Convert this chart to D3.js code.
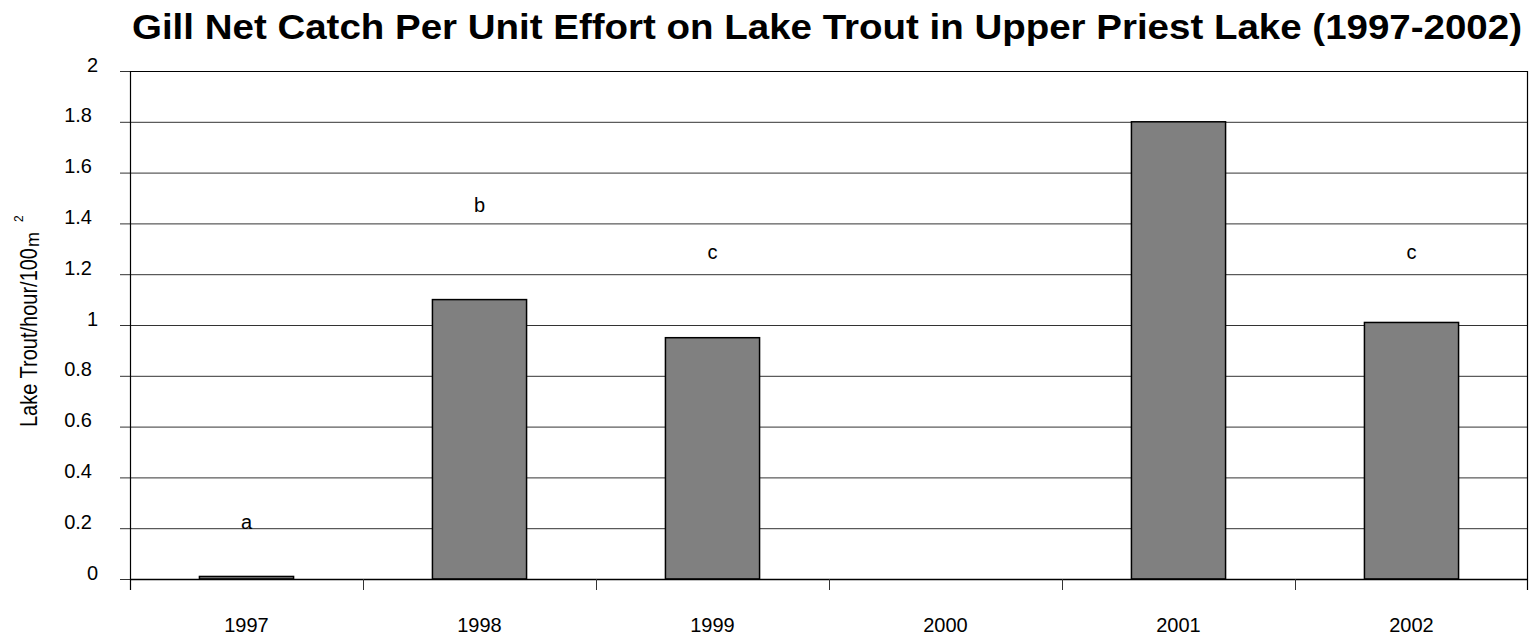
<!DOCTYPE html>
<html>
<head>
<meta charset="utf-8">
<script src="https://cdn.jsdelivr.net/npm/d3@7"></script>
<style>
body { margin: 0; background: #fff; }
text { font-family: "Liberation Sans", Arial, sans-serif; }
</style>
</head>
<body>
<svg id="chart" width="1534" height="636"></svg>
<script>
// du lieu doc tu hinh
const years = ["1997", "1998", "1999", "2000", "2001", "2002"];
const cpue = [0.01, 1.10, 0.95, 0, 1.80, 1.01];
const letters = ["a", "b", "c", "", "", "c"];
const letterAt = [0.197, 1.445, 1.26, 0, 0, 1.26];
const yTicks = [0, 0.2, 0.4, 0.6, 0.8, 1, 1.2, 1.4, 1.6, 1.8, 2];

const svg = d3.select("#chart");
const pLeft = 130, pRight = 1528, pTop = 71, pBottom = 579;

const x = d3.scaleBand().domain(years).range([pLeft, pRight]).paddingInner(0).paddingOuter(0);
const y = d3.scaleLinear().domain([0, 2]).range([pBottom, pTop]);
const barW = x.bandwidth() * 0.404;

// luoi ngang
svg.append("g")
    .selectAll("line")
    .data(yTicks)
    .join("line")
    .attr("x1", pLeft - 10)
    .attr("x2", pRight)
    .attr("y1", d => y(d) + 0.5)
    .attr("y2", d => y(d) + 0.5)
    .attr("stroke", "#333")
    .attr("stroke-width", 1);

// nhan truc y (so nguyen lech phai hon so thap phan nhu hinh goc)
svg.append("g")
    .selectAll("text")
    .data(yTicks)
    .join("text")
    .attr("x", d => Number.isInteger(d) ? 98 : 92)
    .attr("y", d => y(d) + 0.5)
    .attr("text-anchor", "end")
    .attr("font-size", 20)
    .text(d => d);

// cot
svg.append("g")
    .selectAll("rect")
    .data(cpue)
    .join("rect")
    .attr("x", (d, i) => x(years[i]) + (x.bandwidth() - barW) / 2)
    .attr("y", d => y(d))
    .attr("width", barW)
    .attr("height", d => pBottom - y(d))
    .attr("fill", "#808080")
    .attr("stroke", "#000")
    .attr("stroke-width", 1.5)
    .style("display", d => d > 0 ? null : "none");

// chu cai
svg.append("g")
    .selectAll("text")
    .data(letters)
    .join("text")
    .attr("x", (d, i) => x(years[i]) + x.bandwidth() / 2)
    .attr("y", (d, i) => y(letterAt[i]))
    .attr("text-anchor", "middle")
    .attr("font-size", 20)
    .text(d => d);

// khung: truc trai, tren, phai
svg.append("line").attr("x1", pLeft + 0.5).attr("x2", pLeft + 0.5).attr("y1", pTop).attr("y2", pBottom + 11)
    .attr("stroke", "#000").attr("stroke-width", 1.2);
svg.append("line").attr("x1", pLeft).attr("x2", pRight).attr("y1", pTop + 0.5).attr("y2", pTop + 0.5)
    .attr("stroke", "#000").attr("stroke-width", 1.2);
svg.append("line").attr("x1", pRight - 0.5).attr("x2", pRight - 0.5).attr("y1", pTop).attr("y2", pBottom + 11)
    .attr("stroke", "#000").attr("stroke-width", 1.2);
svg.append("line").attr("x1", pLeft).attr("x2", pRight).attr("y1", pBottom + 0.5).attr("y2", pBottom + 0.5)
    .attr("stroke", "#000").attr("stroke-width", 1.5);

// vach truc x
svg.append("g")
    .selectAll("line")
    .data(years.slice(1))
    .join("line")
    .attr("x1", d => x(d) + 0.5)
    .attr("x2", d => x(d) + 0.5)
    .attr("y1", pBottom)
    .attr("y2", pBottom + 11)
    .attr("stroke", "#333");

svg.append("g")
    .selectAll("text")
    .data(years)
    .join("text")
    .attr("x", d => x(d) + x.bandwidth() / 2)
    .attr("y", 632)
    .attr("text-anchor", "middle")
    .attr("font-size", 20)
    .text(d => d);

// tieu de
svg.append("text")
    .attr("x", 827)
    .attr("y", 38.5)
    .attr("text-anchor", "middle")
    .attr("font-size", 35)
    .attr("font-weight", "bold")
    .attr("textLength", 1390)
    .attr("lengthAdjust", "spacingAndGlyphs")
    .text("Gill Net Catch Per Unit Effort on Lake Trout in Upper Priest Lake (1997-2002)");

// tieu de truc y
svg.append("text")
    .attr("transform", "translate(37,427) rotate(-90)")
    .attr("font-size", 24)
    .attr("textLength", 179)
    .attr("lengthAdjust", "spacingAndGlyphs")
    .text("Lake Trout/hour/100");
svg.append("text")
    .attr("transform", "translate(39,247) rotate(-90)")
    .attr("font-size", 18)
    .text("m");
svg.append("text")
    .attr("transform", "translate(23,222) rotate(-90)")
    .attr("font-size", 12)
    .text("2");
</script>
</body>
</html>
